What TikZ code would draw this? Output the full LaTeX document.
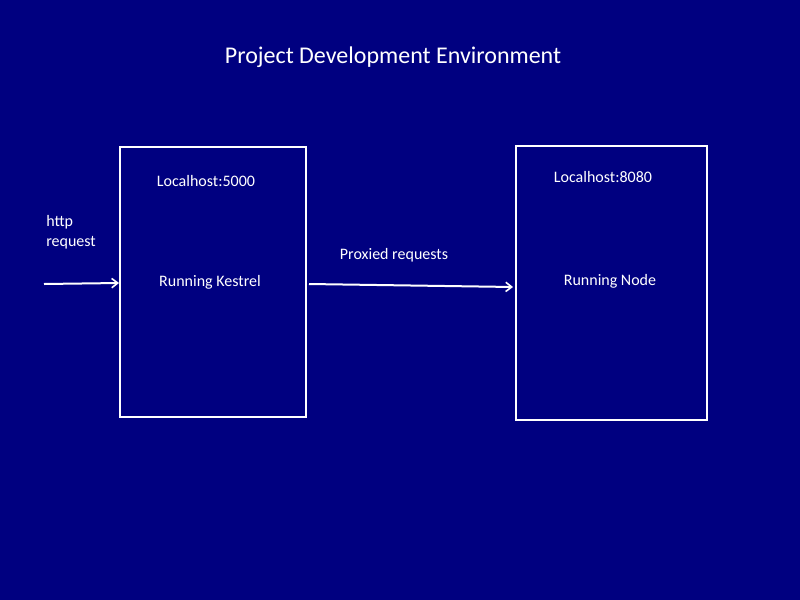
\documentclass[tikz,border=0pt]{standalone}
\usepackage{fontspec}
\setmainfont{Carlito}
\usetikzlibrary{arrows.meta}
\definecolor{slidebg}{RGB}{0,0,128}

\begin{document}
\begin{tikzpicture}[
x=0.75pt, y=-0.75pt,
font=\fontsize{12}{15}\selectfont, text=white,
server/.style={draw=white, line width=1.5pt, minimum width=139.5pt, minimum height=202.5pt, inner sep=0pt},
label/.style={inner sep=0pt, anchor=center},
flow/.style={draw=white, line width=1.5pt, -{Straight Barb[length=4.5pt, width=7pt, line width=1.2pt]}},
]

% slide background
\fill[slidebg] (0,0) rectangle (800,600);
\useasboundingbox (0,0) rectangle (800,600);

\node[label, font=\fontsize{18}{22}\selectfont] (title) at (393,57) {Project Development Environment};

\node[server] (kestrel) at (213,282) {};
\node[server, minimum width=143.25pt, minimum height=205.5pt] (noderun) at (611.5,283) {};

\node[label] (port5000) at (206,181) {Localhost:5000};
\node[label] (port8080) at (603,177) {Localhost:8080};
\node[label] (kestreltxt) at (210,282) {Running Kestrel};
\node[label] (nodetxt) at (610,281) {Running Node};

\node[label, anchor=north west, align=left] (httpreq) at (46,215) {http\\request};
\node[label] (proxied) at (394,255) {Proxied requests};

\coordinate (client) at (44,284);
\draw[flow] (client) -- ([yshift=-0.75pt]kestrel.west);
\draw[flow] ([shift={(2,2)}]kestrel.east) -- ([shift={(-2,4)}]noderun.west);

\end{tikzpicture}
\end{document}
